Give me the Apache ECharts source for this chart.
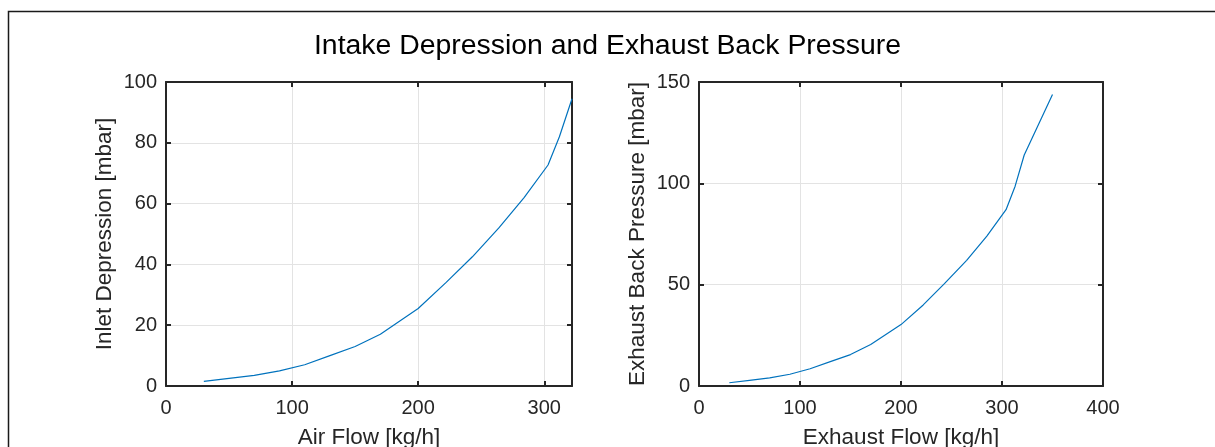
<!DOCTYPE html>
<html>
<head>
<meta charset="utf-8">
<script src="https://cdn.jsdelivr.net/npm/echarts@6/dist/echarts.min.js"></script>
<style>
  html, body { margin: 0; padding: 0; background: #fff; }
  #chart { width: 1215px; height: 447px; }
</style>
</head>
<body>
<div id="chart"></div>
<script>
// intake side
const airFlow = [30, 50, 70, 90, 110, 130, 150, 170, 200, 222, 243, 264, 284, 303, 312, 322];
const inletDepression = [1.5, 2.5, 3.5, 5, 7, 10, 13, 17, 25.5, 34, 42.5, 52, 62, 72.7, 82, 94.5];
// exhaust side
const exhaustFlow = [30, 50, 70, 90, 110, 130, 150, 170, 200, 222, 243, 265, 285, 304, 313, 322, 350];
const backPressure = [1.6, 2.8, 4, 5.8, 8.5, 12, 15.5, 20.5, 30.3, 40, 50.5, 62, 74, 87, 98.6, 114, 143.8];

const titleText = 'Intake Depression and Exhaust Back Pressure';
const font = '"Liberation Sans", Arial, Helvetica, sans-serif';
const textColor = '#262626';

const chart = echarts.init(document.getElementById('chart'), null, { renderer: 'canvas' });

// main axis with labels + inner ticks
const mainAxis = (opts) => ({
  type: 'value',
  gridIndex: opts.grid,
  position: opts.position,
  min: opts.min,
  max: opts.max,
  interval: opts.interval,
  name: opts.name,
  nameLocation: 'middle',
  nameGap: opts.nameGap,
  nameTextStyle: { color: textColor, fontSize: 22.5, fontFamily: font },
  axisLine: { show: true, onZero: false, lineStyle: { color: textColor, width: 2 } },
  axisTick: { show: true, inside: true, length: 5, lineStyle: { color: textColor, width: 2 } },
  axisLabel: { show: true, color: textColor, fontSize: 20, fontFamily: font, margin: opts.margin,
    showMaxLabel: opts.showMax !== false },
  splitLine: { show: true, lineStyle: { color: '#e3e3e3', width: 1 } }
});

// mirrored axis on the opposite side, ticks only
const mirrorAxis = (opts) => ({
  type: 'value',
  gridIndex: opts.grid,
  position: opts.position,
  min: opts.min,
  max: opts.max,
  interval: opts.interval,
  axisLine: { show: true, onZero: false, lineStyle: { color: textColor, width: 2 } },
  axisTick: { show: true, inside: true, length: 5, lineStyle: { color: textColor, width: 2 } },
  axisLabel: { show: false },
  splitLine: { show: false }
});

chart.setOption({
  backgroundColor: '#fff',
  animation: false,
  title: {
    text: titleText,
    left: 'center',
    top: 27,
    textStyle: { color: '#000', fontSize: 28.4, fontWeight: 'normal', fontFamily: font }
  },
  graphic: [{
    type: 'rect',
    shape: { x: 8.5, y: 11.5, width: 1300, height: 600 },
    style: { fill: 'none', stroke: '#1a1a1a', lineWidth: 1.5 },
    silent: true
  }],
  grid: [
    { left: 166, top: 82, width: 406, height: 304, containLabel: false, outerBoundsMode: 'none' },
    { left: 699, top: 82, width: 404, height: 304, containLabel: false, outerBoundsMode: 'none' }
  ],
  xAxis: [
    mainAxis({ grid: 0, position: 'bottom', min: 0, max: 322, interval: 100, name: 'Air Flow [kg/h]', nameGap: 40, margin: 12, showMax: false }),
    mirrorAxis({ grid: 0, position: 'top', min: 0, max: 322, interval: 100 }),
    mainAxis({ grid: 1, position: 'bottom', min: 0, max: 400, interval: 100, name: 'Exhaust Flow [kg/h]', nameGap: 40, margin: 12 }),
    mirrorAxis({ grid: 1, position: 'top', min: 0, max: 400, interval: 100 })
  ],
  yAxis: [
    mainAxis({ grid: 0, position: 'left', min: 0, max: 100, interval: 20, name: 'Inlet Depression [mbar]', nameGap: 50, margin: 9 }),
    mirrorAxis({ grid: 0, position: 'right', min: 0, max: 100, interval: 20 }),
    mainAxis({ grid: 1, position: 'left', min: 0, max: 150, interval: 50, name: 'Exhaust Back Pressure [mbar]', nameGap: 50, margin: 9 }),
    mirrorAxis({ grid: 1, position: 'right', min: 0, max: 150, interval: 50 })
  ],
  series: [
    {
      type: 'line',
      xAxisIndex: 0,
      yAxisIndex: 0,
      data: airFlow.map((x, i) => [x, inletDepression[i]]),
      showSymbol: false,
      lineStyle: { color: '#0072BD', width: 1.2 },
      clip: true
    },
    {
      type: 'line',
      xAxisIndex: 2,
      yAxisIndex: 2,
      data: exhaustFlow.map((x, i) => [x, backPressure[i]]),
      showSymbol: false,
      lineStyle: { color: '#0072BD', width: 1.2 },
      clip: true
    }
  ]
});
</script>
</body>
</html>
